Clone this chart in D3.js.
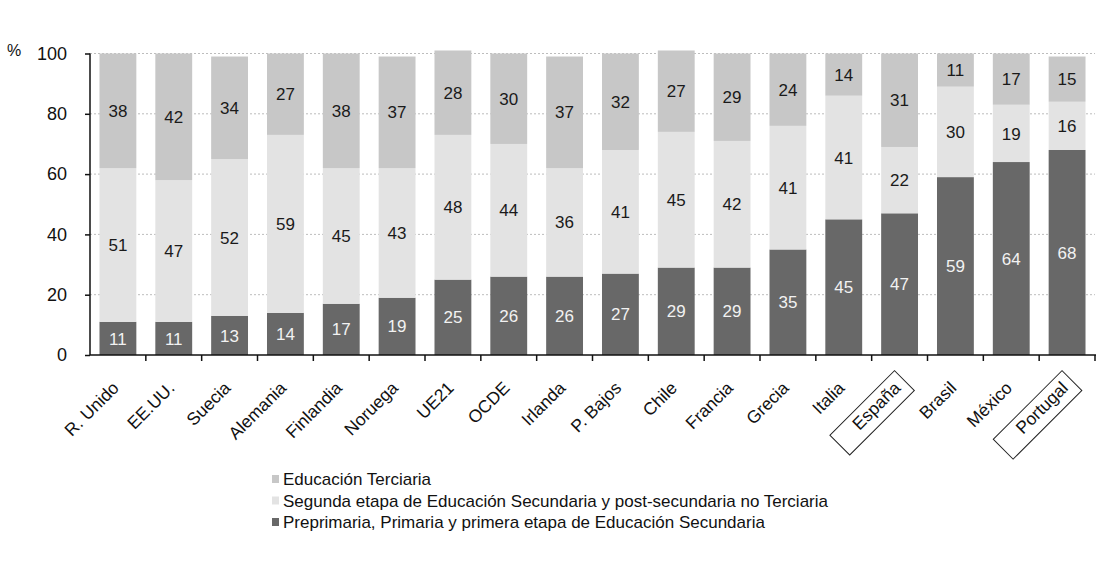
<!DOCTYPE html>
<html>
<head>
<meta charset="utf-8">
<script src="https://cdn.jsdelivr.net/npm/d3@7"></script>
<style>
  html, body { margin: 0; padding: 0; background: #ffffff; }
  svg { display: block; font-family: "Liberation Sans", Arial, sans-serif; }
</style>
</head>
<body>
<svg id="chart" width="1099" height="565"></svg>
<script>
// Población adulta por nivel educativo alcanzado (%)
const categories = ["R. Unido", "EE.UU.", "Suecia", "Alemania", "Finlandia", "Noruega", "UE21", "OCDE",
  "Irlanda", "P. Bajos", "Chile", "Francia", "Grecia", "Italia", "España", "Brasil", "México", "Portugal"];
const primaria   = [11, 11, 13, 14, 17, 19, 25, 26, 26, 27, 29, 29, 35, 45, 47, 59, 64, 68];
const secundaria = [51, 47, 52, 59, 45, 43, 48, 44, 36, 41, 45, 42, 41, 41, 22, 30, 19, 16];
const terciaria  = [38, 42, 34, 27, 38, 37, 28, 30, 37, 32, 27, 29, 24, 14, 31, 11, 17, 15];
const yTicks = [0, 20, 40, 60, 80, 100];
const highlighted = ["España", "Portugal"];

const seriesNames = [
  "Preprimaria, Primaria  y primera etapa de Educación Secundaria",
  "Segunda etapa de Educación Secundaria  y post-secundaria no Terciaria",
  "Educación Terciaria"
];
const seriesValues = [primaria, secundaria, terciaria];
const fills = ["#686868", "#e3e3e3", "#c7c7c7"];
const labelFills = ["#f2f2f2", "#1a1a1a", "#1a1a1a"];

const svg = d3.select("#chart");

const x = d3.scaleBand().domain(categories).range([90, 1095]).paddingInner(0.34).paddingOuter(0.17);
const y = d3.scaleLinear().domain([0, 100]).range([355, 53.5]);

// dotted grid
svg.append("g").selectAll("line").data(yTicks.filter(d => d > 0)).join("line")
  .attr("x1", 90).attr("x2", 1095)
  .attr("y1", d => y(d)).attr("y2", d => y(d))
  .attr("stroke", "#bdbdbd").attr("stroke-width", 1).attr("stroke-dasharray", "2,2");

// stacked data
const rows = categories.map((c, i) => {
  const r = { cat: c };
  seriesValues.forEach((s, k) => r["s" + k] = s[i]);
  return r;
});
const stack = d3.stack().keys(["s0", "s1", "s2"])(rows);

const layers = svg.append("g").selectAll("g").data(stack).join("g")
  .attr("fill", (d, k) => fills[k]);
layers.selectAll("rect").data(d => d).join("rect")
  .attr("x", d => x(d.data.cat))
  .attr("width", x.bandwidth())
  .attr("y", d => y(d[1]))
  .attr("height", d => y(d[0]) - y(d[1]));

// value labels
const labels = svg.append("g").attr("font-size", 17).attr("text-anchor", "middle");
stack.forEach((layer, k) => {
  labels.selectAll(null).data(layer).join("text")
    .attr("x", d => x(d.data.cat) + x.bandwidth() / 2)
    .attr("y", d => y((d[0] + d[1]) / 2))
    .attr("dy", "0.36em")
    .attr("fill", labelFills[k])
    .text(d => d[1] - d[0]);
});

// y axis
const yAxis = svg.append("g").attr("transform", "translate(90,0)")
  .call(d3.axisLeft(y).tickValues(yTicks).tickSize(5).tickPadding(18).tickFormat(d3.format("d")));
yAxis.select(".domain").attr("stroke", "#111").attr("stroke-width", 1.5).attr("d", "M0," + y(100) + "V" + y(0));
yAxis.selectAll(".tick line").attr("stroke", "#111").attr("stroke-width", 1.5);
yAxis.selectAll(".tick text").attr("font-size", 18).attr("fill", "#111")
  .attr("font-family", "Liberation Sans, Arial, sans-serif");

svg.append("text").attr("x", 7).attr("y", 56).attr("font-size", 16).attr("fill", "#111").text("%");

// x axis line with ticks at category boundaries
const step = x.step();
const x0 = x.range()[0];
const bounds = d3.range(categories.length + 1).map(i => x0 + i * step);
svg.append("line").attr("x1", 90).attr("x2", 1096).attr("y1", 355).attr("y2", 355)
  .attr("stroke", "#111").attr("stroke-width", 1.5);
svg.append("g").selectAll("line").data(bounds.slice(1)).join("line")
  .attr("x1", d => d).attr("x2", d => d).attr("y1", 355).attr("y2", 361)
  .attr("stroke", "#111").attr("stroke-width", 1.5);

// rotated category labels, boxed where highlighted
const catG = svg.append("g").selectAll("g").data(categories).join("g")
  .attr("transform", d => `translate(${x(d) + x.bandwidth() / 2 + 2},${389}) rotate(-45)`);
catG.append("text")
  .attr("text-anchor", "end")
  .attr("font-size", 17.5)
  .attr("fill", "#111")
  .text(d => d);
catG.filter(d => highlighted.includes(d)).each(function () {
  const g = d3.select(this);
  const w = g.select("text").node().getComputedTextLength();
  g.insert("rect", "text")
    .attr("x", -w - 24).attr("y", -18).attr("width", w + 32).attr("height", 28)
    .attr("fill", "none").attr("stroke", "#222").attr("stroke-width", 1);
});

// legend
const legendOrder = [2, 1, 0];
const leg = svg.append("g").selectAll("g").data(legendOrder).join("g")
  .attr("transform", (k, i) => `translate(272,${479 + i * 21.5})`);
leg.append("rect").attr("x", 0).attr("y", -4).attr("width", 7).attr("height", 8)
  .attr("fill", k => fills[k]);
leg.append("text").attr("x", 11).attr("dy", "0.36em").attr("font-size", 17).attr("fill", "#111")
  .text(k => seriesNames[k]);
</script>
</body>
</html>
